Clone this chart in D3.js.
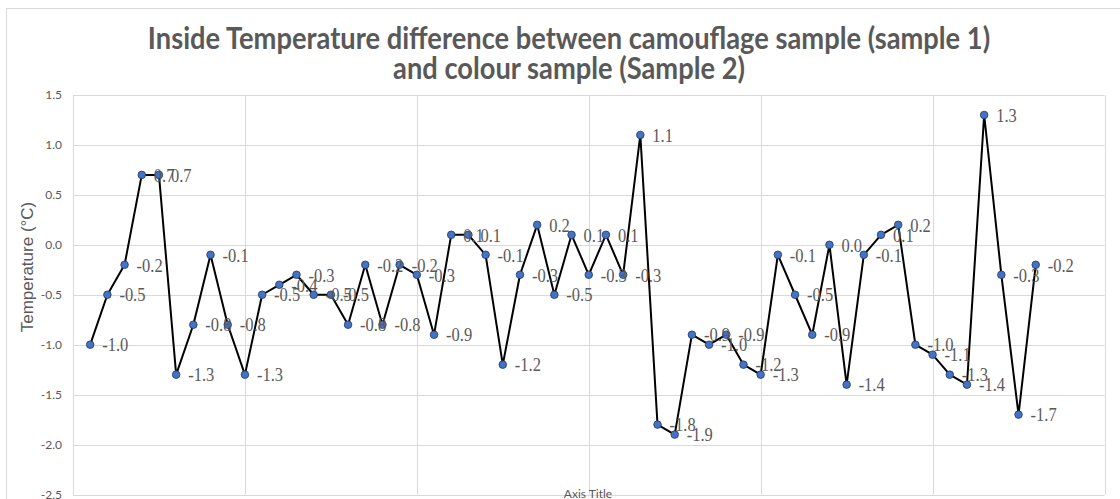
<!DOCTYPE html>
<html>
<head>
<meta charset="utf-8">
<script src="https://cdn.jsdelivr.net/npm/d3@7"></script>
<style>
  body { margin: 0; background: #fff; }
  svg { display: block; }
</style>
</head>
<body>
<svg width="1120" height="499"></svg>
<script>
const TITLE_LINES = [
  "Inside Temperature difference between camouflage sample (sample 1)",
  "and colour sample (Sample 2)"
];
const Y_TITLE = "Temperature (\u00B0C)";
const X_TITLE = "Axis Title";

// one reading per position 1..56, the category axis runs to 60
const positions = d3.range(1, 57);
const temps = [
  -1.0, -0.5, -0.2, 0.7, 0.7, -1.3, -0.8, -0.1, -0.8, -1.3,
  -0.5, -0.4, -0.3, -0.5, -0.5, -0.8, -0.2, -0.8, -0.2, -0.3,
  -0.9, 0.1, 0.1, -0.1, -1.2, -0.3, 0.2, -0.5, 0.1, -0.3,
  0.1, -0.3, 1.1, -1.8, -1.9, -0.9, -1.0, -0.9, -1.2, -1.3,
  -0.1, -0.5, -0.9, 0.0, -1.4, -0.1, 0.1, 0.2, -1.0, -1.1,
  -1.3, -1.4, 1.3, -0.3, -1.7, -0.2
];
const yTicks = [-2.5, -2.0, -1.5, -1.0, -0.5, 0.0, 0.5, 1.0, 1.5];
const xGrid = [0, 10, 20, 30, 40, 50, 60];

const GRID = "#d9d9d9";
const TEXT = "#595959";
const TEXT_STRETCH = 1.2; // the reference picture is a bit taller than wide

// plain hyphen for negatives, like the spreadsheet did
var fmt = d3.formatLocale({
  decimal: ".", thousands: ",", grouping: [3], currency: ["", ""], minus: "-"
}).format(".1f");

var svg = d3.select("svg");

var plot = { left: 73, top: 95, right: 1104.5, bottom: 494.5 };

var x = d3.scaleLinear().domain([0, 60]).range([plot.left, plot.right]);
var y = d3.scaleLinear().domain([-2.5, 1.5]).range([plot.bottom, plot.top]);

var data = positions.map(function(p, i) { return { pos: p, value: temps[i] }; });

// outer chart frame
svg.append("rect")
  .attr("x", 6.5).attr("y", 8.5)
  .attr("width", 1200).attr("height", 600)
  .attr("fill", "none")
  .attr("stroke", GRID);

// grid
svg.append("g")
  .selectAll("line")
  .data(yTicks)
  .enter().append("line")
    .attr("x1", plot.left).attr("x2", plot.right)
    .attr("y1", function(d) { return Math.round(y(d)) + 0.5; })
    .attr("y2", function(d) { return Math.round(y(d)) + 0.5; })
    .attr("stroke", GRID);

svg.append("g")
  .selectAll("line")
  .data(xGrid)
  .enter().append("line")
    .attr("x1", function(d) { return Math.round(x(d)) + 0.5; })
    .attr("x2", function(d) { return Math.round(x(d)) + 0.5; })
    .attr("y1", plot.top).attr("y2", plot.bottom)
    .attr("stroke", GRID);

// y axis labels
var yAxis = d3.axisLeft(y)
  .tickValues(yTicks)
  .tickFormat(fmt)
  .tickSize(0)
  .tickPadding(11);

svg.append("g")
  .attr("transform", "translate(" + plot.left + ",0)")
  .call(yAxis)
  .call(function(g) { g.select(".domain").remove(); })
  .selectAll("text")
    .attr("fill", TEXT)
    .style("font-family", "Lato, 'Open Sans', sans-serif")
    .style("font-size", "12px");

// line + markers
var line = d3.line()
  .x(function(d) { return x(d.pos); })
  .y(function(d) { return y(d.value); });

svg.append("path")
  .datum(data)
  .attr("d", line)
  .attr("fill", "none")
  .attr("stroke", "#000")
  .attr("stroke-width", 2)
  .attr("stroke-linejoin", "round");

svg.append("g")
  .selectAll("circle")
  .data(data)
  .enter().append("circle")
    .attr("cx", function(d) { return x(d.pos); })
    .attr("cy", function(d) { return y(d.value); })
    .attr("r", 3.8)
    .attr("fill", "#4472c4")
    .attr("stroke", "#1f3864")
    .attr("stroke-width", 0.8);

// data labels
svg.append("g")
  .selectAll("text")
  .data(data)
  .enter().append("text")
    .attr("transform", function(d) {
      return "translate(" + (x(d.pos) + 12) + "," + y(d.value) + ") scale(1," + TEXT_STRETCH + ")";
    })
    .attr("dy", "0.34em")
    .attr("fill", TEXT)
    .style("font-family", "'Liberation Serif', 'Times New Roman', serif")
    .style("font-size", "16.5px")
    .text(function(d) { return fmt(d.value); });

// title, sized so the first line spans the same width as the reference
var title = svg.append("g")
  .style("font-family", "Lato, 'Open Sans', sans-serif")
  .style("font-weight", "bold")
  .attr("fill", TEXT)
  .attr("text-anchor", "middle");

var titleText = title.selectAll("text")
  .data(TITLE_LINES)
  .enter().append("text")
    .attr("transform", function(d, i) {
      return "translate(569," + (48.5 + i * 30.5) + ") scale(1,1.12)";
    })
    .style("font-size", "24px")
    .text(function(d) { return d; });

var firstLen = titleText.node().getComputedTextLength();
titleText.style("font-size", (24 * 842 / firstLen).toFixed(2) + "px");

// axis titles
svg.append("text")
  .attr("transform", "translate(33,267) rotate(-90)")
  .attr("text-anchor", "middle")
  .attr("fill", TEXT)
  .style("font-family", "'Liberation Sans', Arial, sans-serif")
  .style("font-size", "17px")
  .text(Y_TITLE);

svg.append("text")
  .attr("x", 588)
  .attr("y", 497.5)
  .attr("text-anchor", "middle")
  .attr("fill", TEXT)
  .style("font-family", "Lato, 'Open Sans', sans-serif")
  .style("font-size", "12px")
  .text(X_TITLE);
</script>
</body>
</html>
